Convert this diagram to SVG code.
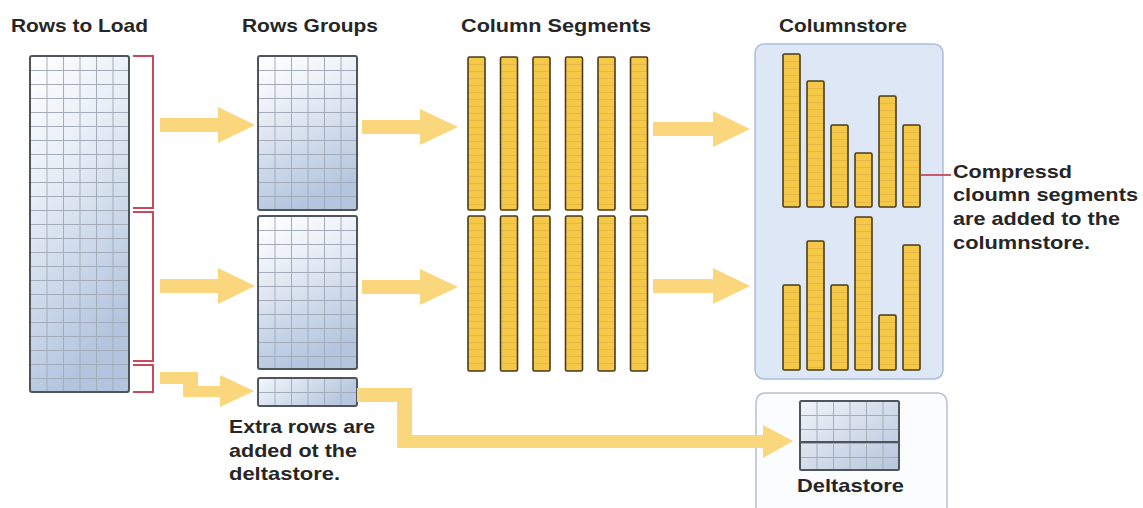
<svg xmlns="http://www.w3.org/2000/svg" width="1143" height="508" viewBox="0 0 1143 508">
  <defs>
    <style>
      .t { font-family: "Liberation Sans", Arial, sans-serif; font-weight: bold; font-size: 18.5px; fill: #262626; }
      .grid { fill: url(#grid); stroke: #4f555d; stroke-width: 2; }
      .bar { fill: url(#seg); stroke: #4a3c1c; stroke-width: 1.6; }
      .arrow { fill: #fad67c; }
      .bracket { fill: none; stroke: #c9485c; stroke-width: 2; }
    </style>
    <!-- cell grid used by all row blocks -->
    <pattern id="grid" patternUnits="userSpaceOnUse" width="16.5" height="14">
      <path d="M0,0.5 H16.5 M0.5,0 V14" fill="none" stroke="#a3acb8" stroke-width="1"/>
    </pattern>
    <!-- yellow column segment with row ticks -->
    <pattern id="seg" patternUnits="userSpaceOnUse" width="17" height="7">
      <rect width="17" height="7" fill="#f6c847"/>
      <path d="M0,0.5 H17" stroke="#dcae45" stroke-width="0.6"/>
    </pattern>
    <linearGradient id="gRows" x1="0" y1="0" x2="0.35" y2="1">
      <stop offset="0" stop-color="#ffffff"/>
      <stop offset="0.35" stop-color="#eaf0f7"/>
      <stop offset="1" stop-color="#b2c4de"/>
    </linearGradient>
    <linearGradient id="gGroup" x1="0" y1="0" x2="0.3" y2="1">
      <stop offset="0" stop-color="#ffffff"/>
      <stop offset="0.3" stop-color="#eef2f8"/>
      <stop offset="1" stop-color="#b4c6df"/>
    </linearGradient>
    <linearGradient id="gSmall" x1="0" y1="0" x2="1" y2="0.4">
      <stop offset="0" stop-color="#f4f7fb"/>
      <stop offset="1" stop-color="#b6c7df"/>
    </linearGradient>
    <linearGradient id="gDelta" x1="0" y1="0" x2="1" y2="1">
      <stop offset="0" stop-color="#f1f4f9"/>
      <stop offset="1" stop-color="#b5c5dc"/>
    </linearGradient>
  </defs>

  <rect width="1143" height="508" fill="#ffffff"/>

  <!-- column titles -->
  <g id="titles">
    <text class="t" x="11" y="32" textLength="137" lengthAdjust="spacingAndGlyphs">Rows to Load</text>
    <text class="t" x="242" y="32" textLength="136" lengthAdjust="spacingAndGlyphs">Rows Groups</text>
    <text class="t" x="461" y="32" textLength="190" lengthAdjust="spacingAndGlyphs">Column Segments</text>
    <text class="t" x="779" y="32" textLength="128" lengthAdjust="spacingAndGlyphs">Columnstore</text>
  </g>

  <!-- store panels -->
  <g id="columnstore">
    <rect x="755" y="44" width="188" height="335" rx="9" fill="#dde7f5" stroke="#a9bedb" stroke-width="1.5"/>
    <g transform="translate(783,54)"><rect class="bar" width="17" height="153" rx="1.5"/></g>
    <g transform="translate(807,81)"><rect class="bar" width="17" height="126" rx="1.5"/></g>
    <g transform="translate(831,125)"><rect class="bar" width="17" height="82" rx="1.5"/></g>
    <g transform="translate(855,153)"><rect class="bar" width="17" height="54" rx="1.5"/></g>
    <g transform="translate(879,96)"><rect class="bar" width="17" height="111" rx="1.5"/></g>
    <g transform="translate(903,125)"><rect class="bar" width="17" height="82" rx="1.5"/></g>
    <g transform="translate(783,285)"><rect class="bar" width="17" height="85" rx="1.5"/></g>
    <g transform="translate(807,241)"><rect class="bar" width="17" height="129" rx="1.5"/></g>
    <g transform="translate(831,285)"><rect class="bar" width="17" height="85" rx="1.5"/></g>
    <g transform="translate(855,217)"><rect class="bar" width="17" height="153" rx="1.5"/></g>
    <g transform="translate(879,315)"><rect class="bar" width="17" height="55" rx="1.5"/></g>
    <g transform="translate(903,245)"><rect class="bar" width="17" height="125" rx="1.5"/></g>
  </g>

  <g id="deltastore">
    <rect x="756" y="393" width="191" height="130" rx="9" fill="#fbfcfe" stroke="#b6c0cf" stroke-width="1.5"/>
    <g transform="translate(800,401)">
      <rect width="99" height="69" fill="url(#gDelta)"/>
      <rect class="grid" width="99" height="69" rx="1.5"/>
      <path d="M0,41 H99" stroke="#4f555d" stroke-width="2"/>
    </g>
    <text class="t" x="797" y="492" textLength="107" lengthAdjust="spacingAndGlyphs">Deltastore</text>
  </g>

  <!-- source rows -->
  <g id="rows-to-load" transform="translate(30,56)">
    <rect width="99" height="336" fill="url(#gRows)"/>
    <rect class="grid" width="99" height="336" rx="2"/>
  </g>

  <!-- row groups -->
  <g id="row-group-1" transform="translate(258,56)">
    <rect width="99" height="154" fill="url(#gGroup)"/>
    <rect class="grid" width="99" height="154" rx="2"/>
  </g>
  <g id="row-group-2" transform="translate(258,216)">
    <rect width="99" height="153" fill="url(#gGroup)"/>
    <rect class="grid" width="99" height="153" rx="2"/>
  </g>
  <g id="row-group-3" transform="translate(258,378)">
    <rect width="99" height="28" fill="url(#gSmall)"/>
    <rect class="grid" width="99" height="28" rx="2"/>
  </g>

  <!-- column segments, two stacks of six -->
  <g id="column-segments">
    <g transform="translate(468,57)"><rect class="bar" width="17" height="153" rx="1.5"/></g>
    <g transform="translate(500.5,57)"><rect class="bar" width="17" height="153" rx="1.5"/></g>
    <g transform="translate(533,57)"><rect class="bar" width="17" height="153" rx="1.5"/></g>
    <g transform="translate(565.5,57)"><rect class="bar" width="17" height="153" rx="1.5"/></g>
    <g transform="translate(598,57)"><rect class="bar" width="17" height="153" rx="1.5"/></g>
    <g transform="translate(630.5,57)"><rect class="bar" width="17" height="153" rx="1.5"/></g>
    <g transform="translate(468,216)"><rect class="bar" width="17" height="155" rx="1.5"/></g>
    <g transform="translate(500.5,216)"><rect class="bar" width="17" height="155" rx="1.5"/></g>
    <g transform="translate(533,216)"><rect class="bar" width="17" height="155" rx="1.5"/></g>
    <g transform="translate(565.5,216)"><rect class="bar" width="17" height="155" rx="1.5"/></g>
    <g transform="translate(598,216)"><rect class="bar" width="17" height="155" rx="1.5"/></g>
    <g transform="translate(630.5,216)"><rect class="bar" width="17" height="155" rx="1.5"/></g>
  </g>

  <!-- connectors: block arrows, brackets and leader line -->
  <g id="connectors">
    <polygon class="arrow" points="160,118 218,118 218,107 255,125 218,143 218,132 160,132"/>
    <polygon class="arrow" points="160,279 218,279 218,268 255,286 218,304 218,293 160,293"/>
    <polygon class="arrow" points="160,372 198,372 198,386 220,386 220,375 254,391 220,407 220,397 183,397 183,384 160,384"/>
    <polygon class="arrow" points="362,120 420,120 420,109 458,127 420,145 420,134 362,134"/>
    <polygon class="arrow" points="362,280 420,280 420,269 458,287 420,305 420,294 362,294"/>
    <polygon class="arrow" points="653,122 713,122 713,111 750,129 713,147 713,136 653,136"/>
    <polygon class="arrow" points="653,279 713,279 713,268 750,286 713,304 713,293 653,293"/>
    <polygon class="arrow" points="357,388 412,388 412,435 763,435 763,425 793,441 763,458 763,448 397,448 397,402 357,402"/>
    <path class="bracket" d="M133,56 H153 V208 H133"/>
    <path class="bracket" d="M133,212 H153 V361 H133"/>
    <path class="bracket" d="M133,365 H153 V392 H133"/>
    <path d="M921,175 H951" stroke="#c44a5a" stroke-width="1.8" fill="none"/>
  </g>

  <!-- notes -->
  <g id="notes">
    <text class="t" x="953" y="178" textLength="119" lengthAdjust="spacingAndGlyphs">Compressd</text>
    <text class="t" x="953" y="201" textLength="185" lengthAdjust="spacingAndGlyphs">cloumn segments</text>
    <text class="t" x="953" y="225" textLength="167" lengthAdjust="spacingAndGlyphs">are added to the</text>
    <text class="t" x="953" y="249" textLength="137" lengthAdjust="spacingAndGlyphs">columnstore.</text>
    <text class="t" x="229" y="433" textLength="146" lengthAdjust="spacingAndGlyphs">Extra rows are</text>
    <text class="t" x="229" y="457" textLength="128" lengthAdjust="spacingAndGlyphs">added ot the</text>
    <text class="t" x="229" y="480" textLength="111" lengthAdjust="spacingAndGlyphs">deltastore.</text>
  </g>
</svg>
